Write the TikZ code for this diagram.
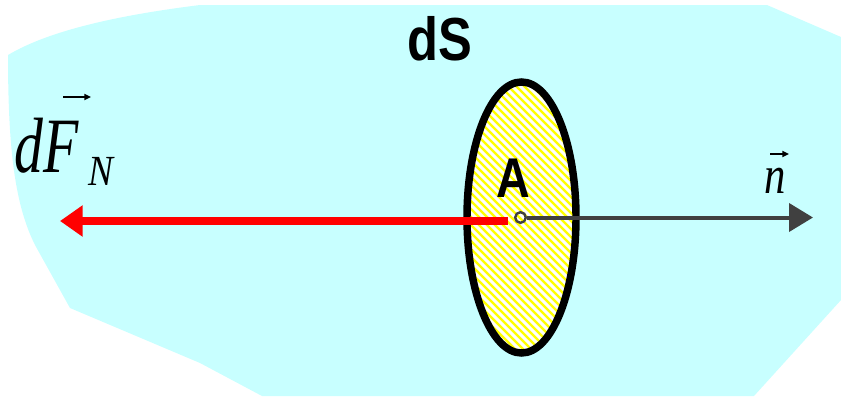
\documentclass[tikz,border=0pt]{standalone}
\usepackage{fontspec}
\setmainfont{Liberation Serif}
\newfontfamily\labelsans{Liberation Sans}
\usetikzlibrary{arrows.meta}
\definecolor{blob}{RGB}{200,255,255}
\definecolor{discyellow}{RGB}{255,255,0}
\definecolor{normgray}{RGB}{64,64,64}
\definecolor{forcered}{RGB}{255,0,0}
\tikzset{
  sanslabel/.style={inner sep=0pt, font=\labelsans\bfseries},
  mathlabel/.style={inner sep=0pt},
  vecbar/.style={line width=1.6pt, -{Triangle[length=5pt,width=4.5pt]}},
}
\begin{document}
\begin{tikzpicture}[x=0.75pt,y=-0.75pt]
\useasboundingbox (0,0) rectangle (841,396);
% fluid region
\fill[blob] (8,55) .. controls (50,30) and (120,15) .. (200,5)
  -- (767,5) -- (841,37) -- (841,300) -- (754,396) -- (262,396)
  -- (200,363) -- (70,308) -- (35,245)
  .. controls (15,205) and (8,150) .. (8,55) -- cycle;
% hatched disc dS
\begin{scope}
  \clip (521.5,217.5) ellipse [x radius=54.5, y radius=135.5];
  \fill[discyellow] (460,75) rectangle (585,360);
  \foreach \k in {150,158,...,600}
    \draw[white, line width=2.3pt] (\k,60) -- (\k+320,380);
\end{scope}
\draw[line width=5.6pt] (521.5,217.5) ellipse [x radius=54.5, y radius=135.5];
% labels
\node[sanslabel, anchor=base] (dS) at (440,60) {\scalebox{1}[1.2]{\fontsize{38pt}{40pt}\selectfont dS}};
\node[sanslabel, anchor=base] (Alab) at (513.5,197) {\scalebox{1}[1.2]{\fontsize{35pt}{36pt}\selectfont A}};
\node[mathlabel, anchor=base west] (dF) at (14,172) {\scalebox{1.03}[1.4]{\fontsize{42pt}{44pt}\selectfont\itshape dF}};
\node[mathlabel, anchor=base west] (Nsub) at (88,185) {\scalebox{1}[1.15]{\fontsize{28pt}{30pt}\selectfont\itshape N}};
\node[mathlabel, anchor=base] (nlab) at (775,193) {\scalebox{1}[1.26]{\fontsize{32pt}{34pt}\selectfont\itshape n}};
% vector arrows over F and n
\coordinate (fa1) at (63,97); \coordinate (fa2) at (91,97);
\draw[vecbar] (fa1) -- (fa2);
\coordinate (na1) at (770,154); \coordinate (na2) at (789,154);
\draw[vecbar] (na1) -- (na2);
% point A and vectors
\node[circle, draw=normgray, line width=1.8pt, minimum size=8pt, inner sep=0pt] (pt) at (520.5,217.5) {};
\coordinate (fs) at (508,221);
\coordinate (ft) at (60,221);
\coordinate (nt) at (813,217.5);
\draw[forcered, line width=6.4pt, -{Triangle[length=17pt,width=22.5pt]}] (fs) -- (ft);
\draw[normgray, line width=3pt, -{Triangle[length=18pt,width=21pt]}] (pt.east) -- (nt);
\end{tikzpicture}
\end{document}
